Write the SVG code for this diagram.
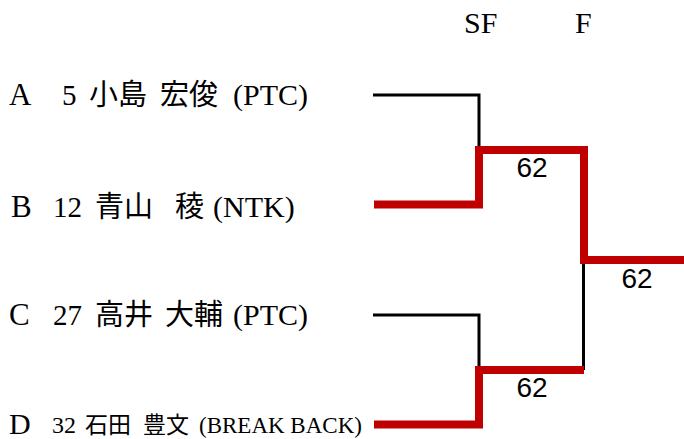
<svg xmlns="http://www.w3.org/2000/svg" width="684" height="439" viewBox="0 0 684 439">
<style>
.lat{font-family:"Liberation Serif","Noto Sans CJK JP",serif;fill:#000}
.cjk{font-family:"Noto Sans CJK JP","Liberation Serif",sans-serif;fill:#000}
.score{font-family:"Liberation Sans",Arial,sans-serif;font-size:28px;fill:#000;text-anchor:middle}
.blk{fill:none;stroke:#000;stroke-width:3}
.red{fill:none;stroke:#C00000;stroke-width:8}
</style>
<rect width="684" height="439" fill="#fff"/>
<g id="headers">
<text class="lat" x="464" y="33" font-size="30">SF</text>
<text class="lat" x="575" y="33" font-size="30">F</text>
</g>
<g id="connectors">
<path class="blk" d="M373,95 H479 V150"/>
<path class="blk" d="M373,315 H479 V370"/>
<path class="blk" d="M583.5,260 V370"/>
<path class="red" d="M374,204.5 H479 V150 H584 V260 H684"/>
<path class="red" d="M374,424.5 H479 V370 H584"/>
</g>
<g id="nodeA">
<text class="lat" x="9" y="105" font-size="31">A</text>
<text class="lat" x="62" y="105" font-size="29">5</text>
<text class="cjk" x="89" y="105" font-size="29">小島</text>
<text class="cjk" x="160" y="105" font-size="29">宏俊</text>
<text class="lat" x="233" y="105" font-size="30">(PTC)</text>
</g>
<g id="nodeB">
<text class="lat" x="11" y="217" font-size="31">B</text>
<text class="lat" x="53" y="217" font-size="29">12</text>
<text class="cjk" x="95" y="217" font-size="29">青山</text>
<text class="cjk" x="175" y="217" font-size="29">稜</text>
<text class="lat" x="213" y="217" font-size="30">(NTK)</text>
</g>
<g id="nodeC">
<text class="lat" x="9" y="325" font-size="31">C</text>
<text class="lat" x="53" y="325" font-size="29">27</text>
<text class="cjk" x="95" y="325" font-size="29">高井</text>
<text class="cjk" x="165" y="325" font-size="29">大輔</text>
<text class="lat" x="233" y="325" font-size="30">(PTC)</text>
</g>
<g id="nodeD">
<text class="lat" x="9" y="434" font-size="30">D</text>
<text class="lat" x="52" y="433" font-size="24">32</text>
<text class="cjk" x="85" y="433" font-size="23">石田</text>
<text class="cjk" x="143" y="433" font-size="23">豊文</text>
<text class="lat" x="199" y="433" font-size="23">(BREAK BACK)</text>
</g>
<g id="scores">
<text class="score" x="532" y="177">62</text>
<text class="score" x="532" y="397">62</text>
<text class="score" x="637" y="288">62</text>
</g>
</svg>
